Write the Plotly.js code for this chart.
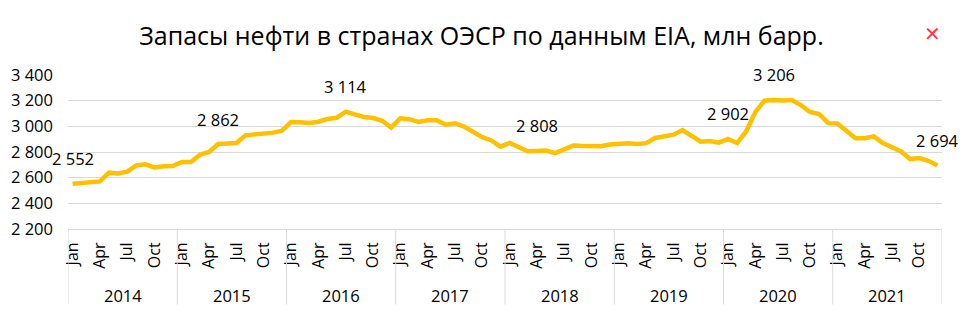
<!DOCTYPE html>
<html>
<head>
<meta charset="utf-8">
<script src="https://cdn.plot.ly/plotly-3.0.1.min.js"></script>
<style>
  html, body { margin: 0; padding: 0; background: #ffffff; }
  #chart { width: 963px; height: 315px; }
</style>
</head>
<body>
<div id="chart"></div>
<script>
// ---- Data ----
const years = ['2014', '2015', '2016', '2017', '2018', '2019', '2020', '2021'];
const monthNames = ['Jan', 'Feb', 'Mar', 'Apr', 'May', 'Jun', 'Jul', 'Aug', 'Sep', 'Oct', 'Nov', 'Dec'];
const shownMonths = ['Jan', 'Apr', 'Jul', 'Oct'];
// OECD oil stocks, mln bbl, monthly Jan 2014 .. Dec 2021
const stocks2014 = [2552, 2556, 2561, 2571, 2639, 2632, 2647, 2696, 2704, 2680, 2688, 2690];
const stocks2015 = [2722, 2722, 2779, 2800, 2862, 2862, 2870, 2930, 2938, 2938, 2951, 2966];
const stocks2016 = [3034, 3032, 3026, 3036, 3058, 3066, 3114, 3093, 3073, 3065, 3043, 2990];
const stocks2017 = [3062, 3056, 3034, 3048, 3048, 3013, 3024, 2998, 2960, 2915, 2890, 2842];
const stocks2018 = [2870, 2840, 2806, 2808, 2811, 2791, 2820, 2850, 2846, 2843, 2845, 2858];
const stocks2019 = [2866, 2868, 2863, 2869, 2909, 2922, 2935, 2971, 2927, 2880, 2886, 2873];
const stocks2020 = [2902, 2870, 2962, 3112, 3200, 3206, 3202, 3205, 3165, 3112, 3096, 3025];
const stocks2021 = [3023, 2965, 2908, 2908, 2921, 2869, 2837, 2804, 2745, 2753, 2731, 2694];
// points that carry a value label (index into the monthly series)
const labelIdx = [0, 16, 30, 51, 72, 77, 95];
const yTicks = [2200, 2400, 2600, 2800, 3000, 3200, 3400];
const titleText = 'Запасы нефти в странах ОЭСР по данным EIA, млн барр.';

// ---- Build ----
const stocks = [].concat(stocks2014, stocks2015, stocks2016, stocks2017,
                         stocks2018, stocks2019, stocks2020, stocks2021);
const xIdx = stocks.map((_, i) => i);
const hoverLbl = stocks.map((_, i) => monthNames[i % 12] + ' ' + years[Math.floor(i / 12)]);

const tickvals = [], ticktext = [];
xIdx.forEach(i => {
  const m = monthNames[i % 12];
  if (shownMonths.includes(m)) { tickvals.push(i); ticktext.push(m); }
});

const fmt = v => String(v).replace(/\B(?=(\d{3})+(?!\d))/g, ' ');
const FONT = 'Open Sans, Noto Sans, sans-serif';
const GRID = '#d9d9d9';

const annotations = labelIdx.map(i => ({
  x: i, y: stocks[i], xref: 'x', yref: 'y',
  text: fmt(stocks[i]), showarrow: false,
  xanchor: 'center', yanchor: 'middle', yshift: 25,
  font: { family: FONT, size: 16.5, color: '#000000' }
}));

years.forEach((y, k) => {
  annotations.push({
    x: k * 12 + 5.5, y: -0.43, xref: 'x', yref: 'paper',
    text: y, showarrow: false, xanchor: 'center', yanchor: 'middle',
    font: { family: FONT, size: 16.5, color: '#000000' }
  });
});

// red close mark (top-right corner of the reference picture)
annotations.push({
  x: (943 - 68) / (963 - 68 - 21), y: (315 - 86 - 20) / (315 - 75 - 86),
  xref: 'paper', yref: 'paper', text: '✕', showarrow: false,
  font: { family: 'DejaVu Sans', size: 20, color: '#ff3b3b' }
});

const shapes = [];
for (let k = 0; k <= years.length; k++) {
  shapes.push({
    type: 'line', xref: 'x', yref: 'paper',
    x0: k * 12 - 0.5, x1: k * 12 - 0.5, y0: 0, y1: -0.49,
    line: { color: GRID, width: 1 }
  });
}

const trace = {
  x: xIdx, y: stocks, type: 'scatter', mode: 'lines',
  line: { color: '#ffc000', width: 4.5 },
  text: hoverLbl, hoverinfo: 'text+y'
};

const layout = {
  width: 963, height: 315,
  margin: { l: 68, r: 21, t: 75, b: 86 },
  paper_bgcolor: '#ffffff', plot_bgcolor: '#ffffff',
  separators: ', ',
  showlegend: false,
  title: {
    text: titleText, x: 0.5, xanchor: 'center', y: 0.885, yanchor: 'middle',
    font: { family: FONT, size: 25, color: '#000000' }
  },
  xaxis: {
    range: [-0.5, stocks.length - 0.5],
    tickmode: 'array', tickvals: tickvals, ticktext: ticktext,
    tickangle: -90, ticks: '', ticklabelstandoff: 6,
    tickfont: { family: FONT, size: 16, color: '#000000' },
    showgrid: false, zeroline: false,
    showline: true, linecolor: GRID, linewidth: 1
  },
  yaxis: {
    range: [2200, 3400], tickmode: 'array', tickvals: yTicks,
    tickformat: ',d',
    tickfont: { family: FONT, size: 16.5, color: '#000000' },
    showgrid: true, gridcolor: GRID, gridwidth: 1,
    zeroline: false, showline: false, ticks: '', ticklabelstandoff: 14
  },
  annotations: annotations,
  shapes: shapes
};

Plotly.newPlot('chart', [trace], layout, { staticPlot: true, displayModeBar: false });
</script>
</body>
</html>
